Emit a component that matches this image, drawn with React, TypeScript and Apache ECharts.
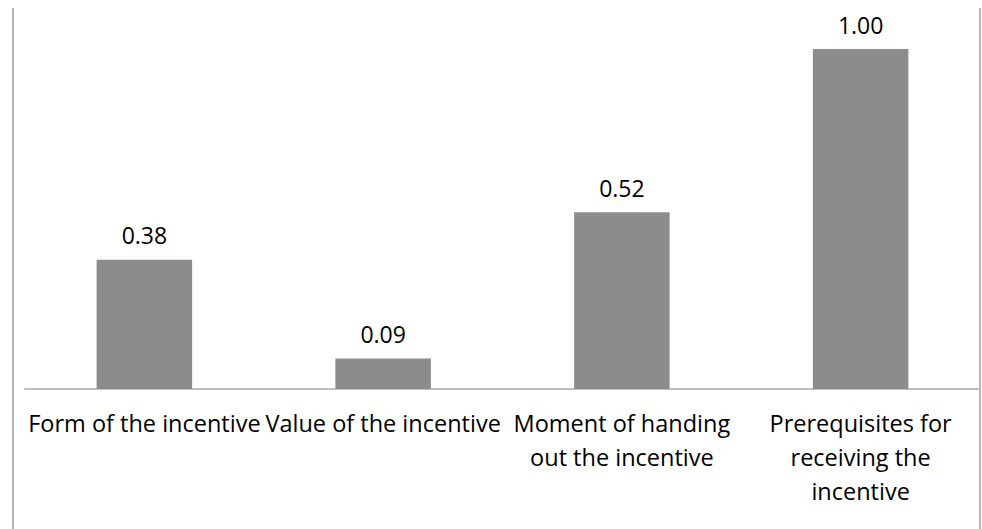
import React, { useEffect, useRef } from "react";
import * as echarts from "echarts";

const categories = [
  "Form of the incentive",
  "Value of the incentive",
  "Moment of handing\nout the incentive",
  "Prerequisites for\nreceiving the\nincentive",
];
const values = [0.38, 0.09, 0.52, 1.0];

export default function App() {
  const ref = useRef<HTMLDivElement>(null);
  useEffect(() => {
    if (!ref.current) return;
    const chart = echarts.init(ref.current, null, { renderer: "svg" });
    chart.setOption({
      animation: false,
      backgroundColor: "#ffffff",
      textStyle: { fontFamily: "Open Sans" },
      grid: { left: 25, right: 2, top: 49, bottom: 140, containLabel: false },
      xAxis: {
        type: "category",
        data: categories,
        axisLine: { show: true, lineStyle: { color: "#bfbfbf", width: 2 } },
        axisTick: { show: false },
        axisLabel: {
          interval: 0,
          color: "#000000",
          fontSize: 23.5,
          lineHeight: 34,
          margin: 17,
          fontFamily: "Open Sans",
        },
      },
      yAxis: {
        type: "value",
        min: 0,
        max: 1,
        show: false,
        splitLine: { show: false },
      },
      series: [
        {
          type: "bar",
          data: values,
          barWidth: "40%",
          itemStyle: { color: "#8c8c8c" },
          label: {
            show: true,
            position: "top",
            distance: 13,
            color: "#000000",
            fontSize: 23,
            fontFamily: "Open Sans",
            formatter: (p: any) => Number(p.value).toFixed(2),
          },
        },
      ],
      graphic: [
        {
          type: "line",
          shape: { x1: 13, y1: 8, x2: 13, y2: 529 },
          style: { stroke: "#b5b5b5", lineWidth: 2 },
        },
        {
          type: "line",
          shape: { x1: 980, y1: 8, x2: 980, y2: 529 },
          style: { stroke: "#b5b5b5", lineWidth: 2 },
        },
      ],
    });
    return () => chart.dispose();
  }, []);
  return (
    <div
      ref={ref}
      style={{ position: "fixed", left: 0, top: 0, width: 982, height: 529 }}
    />
  );
}
